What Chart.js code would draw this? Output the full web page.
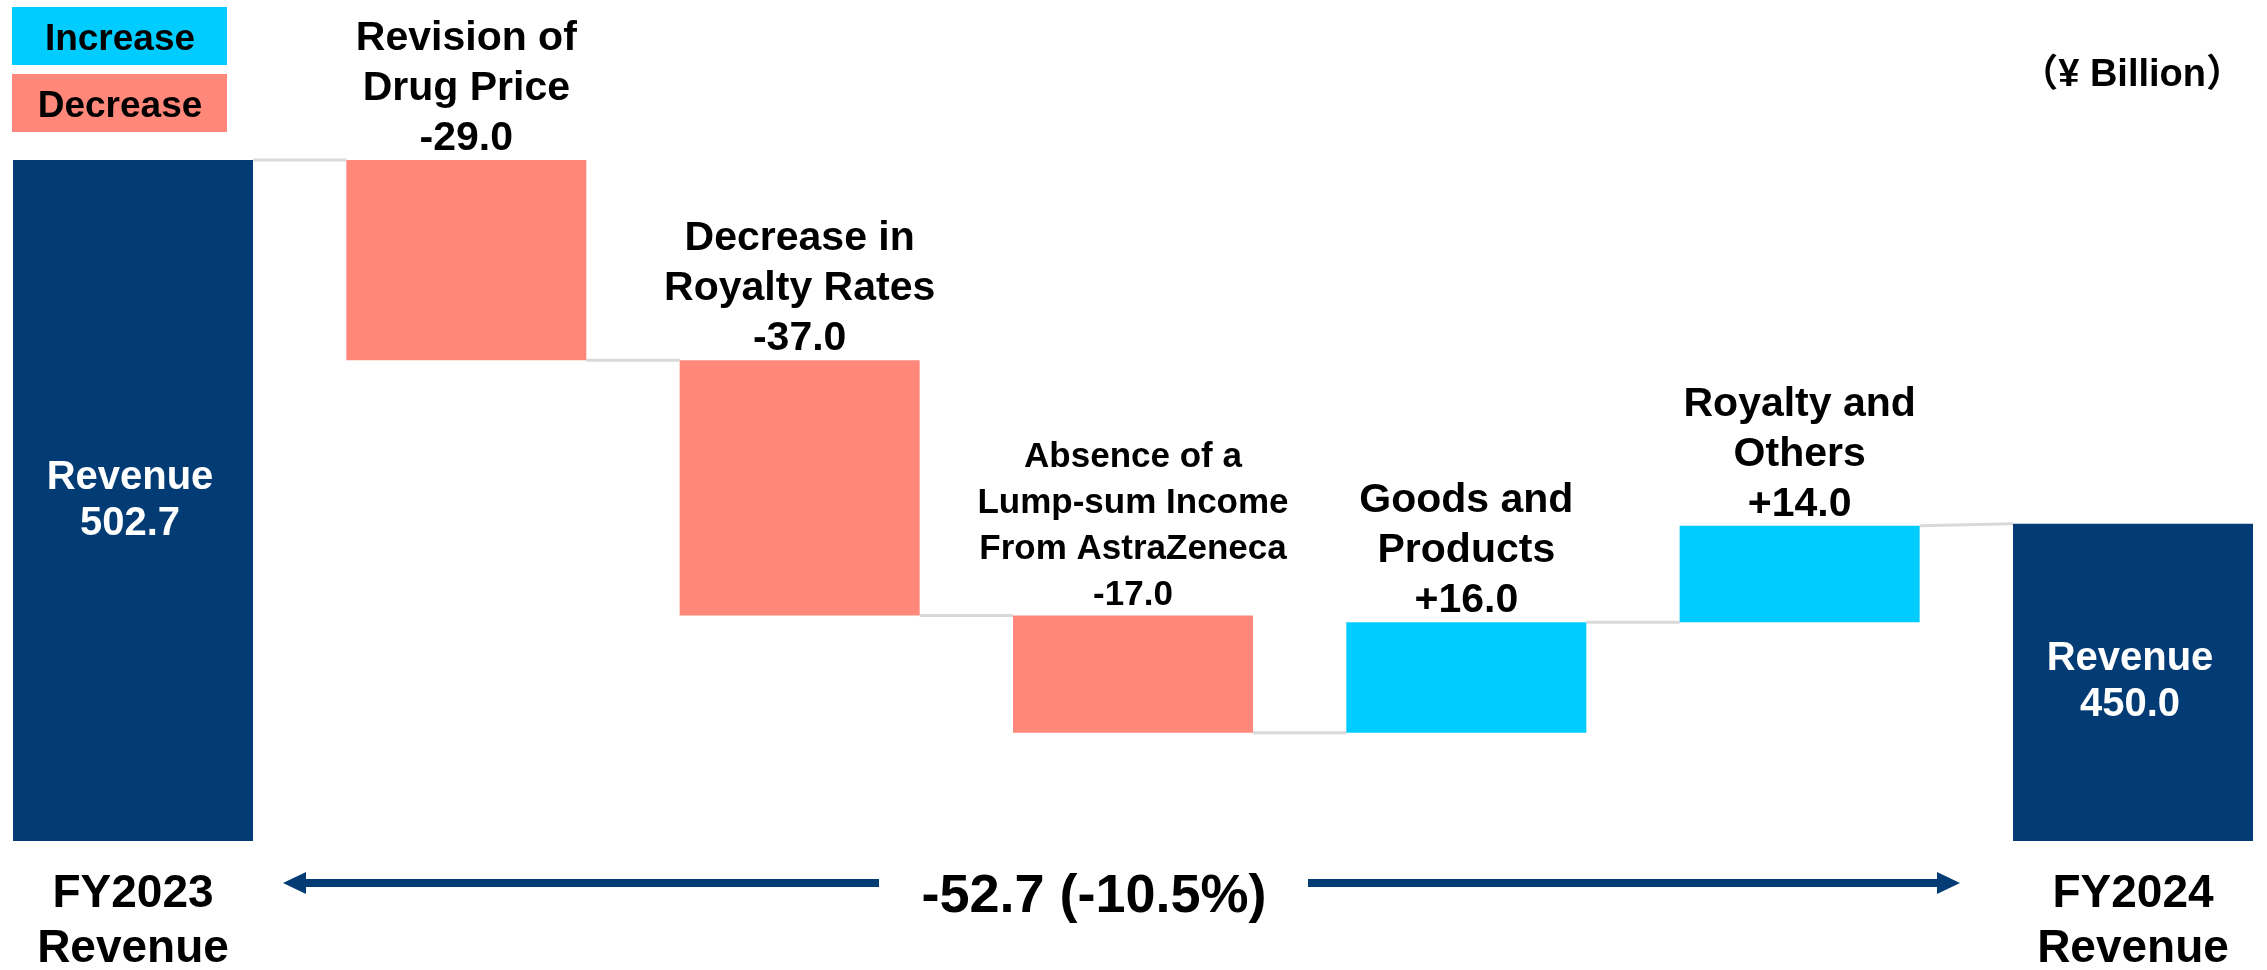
<!DOCTYPE html>
<html>
<head>
<meta charset="utf-8">
<script src="https://cdn.jsdelivr.net/npm/chart.js@4"></script>
<style>
    body { margin: 0; background: #fff; }
    #wrap { width: 2267px; height: 970px; position: relative; }
</style>
</head>
<body>
<div id="wrap"><canvas id="myWaterfall"></canvas></div>
<script>
// data (¥ billion)
var categories = ['FY2023 Revenue', 'Revision of Drug Price', 'Decrease in Royalty Rates',
    'Absence of a Lump-sum Income From AstraZeneca', 'Goods and Products', 'Royalty and Others', 'FY2024 Revenue'];
var totals = [502.7, null, null, null, null, null, 450.0];
var deltas = [null, -29.0, -37.0, -17.0, 16.0, 14.0, null];
var labelLines = [
    [],
    ['Revision of', 'Drug Price'],
    ['Decrease in', 'Royalty Rates'],
    ['Absence of a', 'Lump-sum Income', 'From AstraZeneca'],
    ['Goods and', 'Products'],
    ['Royalty and', 'Others'],
    []
];
var axisLabels = [['FY2023', 'Revenue'], [], [], [], [], [], ['FY2024', 'Revenue']];
var legendItems = ['Increase', 'Decrease'];
var unitLabel = '（¥ Billion）';

// axis is cut, bars do not start at zero
var yMin = 404;
var yMax = 525.9;

var NAVY = '#033B74';
var UP = '#00CCFF';
var DOWN = '#FF887B';
var FONT = '"Liberation Sans", Arial, sans-serif';

// build floating bars from the running total
var bars = [];
var startLevel = [];
var endLevel = [];
var colors = [];
var running = 0;
for (var i = 0; i < categories.length; i++) {
    if (totals[i] !== null) {
        bars.push([yMin, totals[i]]);
        startLevel.push(totals[i]);
        endLevel.push(totals[i]);
        colors.push(NAVY);
        running = totals[i];
    } else {
        var next = Math.round((running + deltas[i]) * 10) / 10;
        bars.push([running, next]);
        startLevel.push(running);
        endLevel.push(next);
        colors.push(deltas[i] < 0 ? DOWN : UP);
        running = next;
    }
}

var change = totals[6] - totals[0];
var changeText = change.toFixed(1) + ' (' + (change / totals[0] * 100).toFixed(1) + '%)';

function fmt(v) {
    return (v > 0 ? '+' : '') + v.toFixed(1);
}

function drawLines(ctx, lines, x, y, step) {
    lines.forEach(function (t, k) {
        ctx.fillText(t, x, y + k * step);
    });
}

var waterfallPlugin = {
    id: 'waterfallExtras',
    beforeDatasetsDraw: function (chart) {
        var ctx = chart.ctx;
        var meta = chart.getDatasetMeta(0);
        var ys = chart.scales.y;
        ctx.save();
        ctx.strokeStyle = '#D9D9D9';
        ctx.lineWidth = 3;
        for (var i = 0; i < meta.data.length - 1; i++) {
            var a = meta.data[i], b = meta.data[i + 1];
            ctx.beginPath();
            ctx.moveTo(a.x + a.width / 2, ys.getPixelForValue(endLevel[i]));
            ctx.lineTo(b.x - b.width / 2, ys.getPixelForValue(startLevel[i + 1]));
            ctx.stroke();
        }
        ctx.restore();
    },
    afterDatasetsDraw: function (chart) {
        var ctx = chart.ctx;
        var meta = chart.getDatasetMeta(0);
        ctx.save();
        ctx.textAlign = 'center';
        ctx.textBaseline = 'alphabetic';

        meta.data.forEach(function (bar, i) {
            var top = Math.min(bar.y, bar.base);
            var bottom = Math.max(bar.y, bar.base);
            if (totals[i] !== null) {
                // value inside the total bar
                ctx.fillStyle = '#ffffff';
                ctx.font = 'bold 40px ' + FONT;
                var mid = (top + bottom) / 2;
                drawLines(ctx, ['Revenue', totals[i].toFixed(1)], bar.x - 3, mid - 12, 46);
                // category under the bar
                ctx.fillStyle = '#000000';
                ctx.font = 'bold 46px ' + FONT;
                drawLines(ctx, axisLabels[i], bar.x, 907, 55);
            } else {
                var lines = labelLines[i].concat([fmt(deltas[i])]);
                var small = lines.length > 3;
                var step = small ? 46 : 50;
                ctx.fillStyle = '#000000';
                ctx.font = 'bold ' + (small ? 35 : 41) + 'px ' + FONT;
                drawLines(ctx, lines, bar.x, top - 10 - (lines.length - 1) * step, step);
            }
        });

        // total change with arrows
        var first = meta.data[0], last = meta.data[meta.data.length - 1];
        var cx = 1094, ay = 883;
        ctx.fillStyle = '#000000';
        ctx.font = 'bold 54px ' + FONT;
        ctx.fillText(changeText, cx, 912);

        ctx.fillStyle = NAVY;
        var l1 = first.x + 150, l2 = cx - 215;
        var r1 = cx + 214, r2 = last.x - 173;
        ctx.fillRect(l1 + 20, ay - 4, l2 - l1 - 20, 8);
        ctx.beginPath();
        ctx.moveTo(l1, ay);
        ctx.lineTo(l1 + 23, ay - 11);
        ctx.lineTo(l1 + 23, ay + 11);
        ctx.closePath();
        ctx.fill();
        ctx.fillRect(r1, ay - 4, r2 - r1 - 20, 8);
        ctx.beginPath();
        ctx.moveTo(r2, ay);
        ctx.lineTo(r2 - 23, ay - 11);
        ctx.lineTo(r2 - 23, ay + 11);
        ctx.closePath();
        ctx.fill();

        // legend boxes
        var boxColors = [UP, DOWN];
        legendItems.forEach(function (t, k) {
            var by = 7 + k * 67;
            ctx.fillStyle = boxColors[k];
            ctx.fillRect(12, by, 215, 58);
            ctx.fillStyle = '#000000';
            ctx.font = 'bold 37px ' + FONT;
            ctx.fillText(t, 120, by + 43);
        });

        // unit
        ctx.textAlign = 'right';
        ctx.font = 'bold 38px ' + FONT + ', "Noto Sans CJK JP"';
        ctx.fillText(unitLabel, 2244, 86);
        ctx.restore();
    }
};

var ctx = document.getElementById('myWaterfall').getContext('2d');

var myChart = new Chart(ctx, {
    type: 'bar',
    data: {
        labels: categories,
        datasets: [{
            data: bars,
            backgroundColor: colors,
            borderWidth: 0,
            barPercentage: 0.72,
            categoryPercentage: 1.0,
            clip: false
        }]
    },
    options: {
        responsive: true,
        maintainAspectRatio: false,
        animation: false,
        layout: {
            padding: { left: 133, right: 134, top: 0, bottom: 129 }
        },
        plugins: {
            legend: { display: false },
            tooltip: { enabled: false }
        },
        scales: {
            x: { display: false, offset: false },
            y: { display: false, min: yMin, max: yMax }
        }
    },
    plugins: [waterfallPlugin]
});
</script>
</body>
</html>
